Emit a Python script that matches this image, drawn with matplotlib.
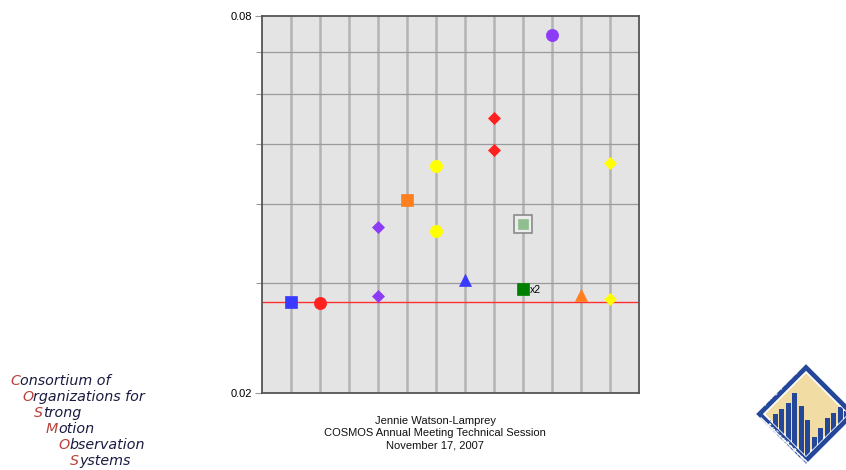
import matplotlib
matplotlib.use("Agg")
import matplotlib.pyplot as plt
from matplotlib.patches import Polygon, Rectangle
import numpy as np

# ---------------- data ----------------
positions = [1, 2, 4, 4, 5, 6, 6, 7, 8, 8, 9, 9, 10, 11, 12, 12]
values = [0.0280, 0.0279, 0.0368, 0.0286, 0.0406, 0.0461, 0.0363, 0.0303,
          0.0550, 0.0489, 0.0373, 0.0293, 0.0745, 0.0287, 0.0465, 0.0283]
markers = ['s', 'o', 'D', 'D', 's', 'o', 'o', '^', 'D', 'D', 's', 's', 'o', '^', 'D', 'D']
colors = ['#3a3aff', '#ff2020', '#8c3cf5', '#8c3cf5', '#ff7f1e', '#ffff00', '#ffff00',
          '#3a3aff', '#ff2020', '#ff2020', '#8fbf8f', '#008000', '#8c3cf5', '#ff7f1e',
          '#ffff00', '#ffff00']
boxed_index = 10          # the light green point drawn with a frame
note_index = 11           # the point labelled "x2"
note_text = "x2"
reference_value = 0.0280
y_min, y_max = 0.02, 0.08
ytick_major = [0.02, 0.08]
ytick_major_labels = ["0.02", "0.08"]
ytick_minor = [0.03, 0.04, 0.05, 0.06, 0.07]
x_grid = list(range(1, 13))
x_min, x_max = 0, 13

credit_lines = ["Jennie Watson-Lamprey",
                "COSMOS Annual Meeting Technical Session",
                "November 17, 2007"]
cosmos_words = ["Consortium of", "Organizations for", "Strong", "Motion",
                "Observation", "Systems"]

# ---------------- figure ----------------
W, H = 846, 470
fig = plt.figure(figsize=(W / 100, H / 100), dpi=100)
fig.patch.set_facecolor('white')

ax = fig.add_axes([262 / W, 1 - 393.3 / H, 377 / W, 377.6 / H])
ax.set_facecolor('#e4e4e4')
ax.set_yscale('log')
ax.set_ylim(y_min, y_max)
ax.set_xlim(x_min, x_max)

for xv in x_grid:
    ax.axvline(xv, color='#b3b3b3', lw=1.8, zorder=1)
for yv in ytick_minor:
    ax.axhline(yv, color='#9a9a9a', lw=0.9, zorder=1)

ax.axhline(reference_value, color='#ff3030', lw=1.0, zorder=2)

sizes = {'s': 8.5, 'o': 8.8, 'D': 6.5, '^': 8.5}
for i, (xp, v, m, c) in enumerate(zip(positions, values, markers, colors)):
    ms = sizes[m]
    if i == boxed_index:
        ax.plot(xp, v, marker='s', ms=13, mfc='#ececec', mec='#8a8a8a', mew=1.2,
                ls='none', zorder=3)
        ms = 7.5
    ax.plot(xp, v, marker=m, ms=ms, mfc=c, mec=c, mew=0.5, ls='none', zorder=4)

ax.annotate(note_text, (positions[note_index], values[note_index]),
            xytext=(5, -3), textcoords='offset points', fontsize=7.5,
            family='Liberation Sans', va='baseline', ha='left', zorder=5)

ax.set_xticks([])
ax.set_yticks(ytick_major)
ax.set_yticklabels(ytick_major_labels, family='Liberation Sans', fontsize=8)
ax.set_yticks(ytick_minor, minor=True)
ax.set_yticklabels([], minor=True)
ax.tick_params(axis='y', which='major', length=5, width=0.8, color='#999999', pad=2)
ax.tick_params(axis='y', which='minor', length=4, width=0.8, color='#999999')
for s in ax.spines.values():
    s.set_color('#555555')
    s.set_linewidth(1.3)

# credit text
for k, line in enumerate(credit_lines):
    fig.text(435 / W, 1 - (421 + 12.5 * k) / H, line, ha='center', va='center',
             fontsize=8, family='Liberation Sans', color='#111111')

# COSMOS logo text
fig.canvas.draw()
r = fig.canvas.get_renderer()
for k, word in enumerate(cosmos_words):
    x0 = (10 + 12 * k) / W
    y0 = 1 - (381 + 16 * k) / H
    t = fig.text(x0, y0, word[0], ha='left', va='center', fontsize=10.3,
                 style='italic', family='DejaVu Sans', color='#b8403a')
    bb = t.get_window_extent(renderer=r)
    fig.text(bb.x1 / W, y0, word[1:], ha='left', va='center', fontsize=10.3,
             style='italic', family='DejaVu Sans', color='#1a1a40')

# PEER logo (approximate)
lax = fig.add_axes([0, 0, 1, 1], facecolor='none')
lax.set_xlim(0, W)
lax.set_ylim(H, 0)
lax.axis('off')
cx, cy, R = 806, 414, 51
outer = [(cx, cy - R), (cx - R, cy), (cx, cy + R), (cx + R, cy)]
lax.add_patch(Polygon(outer, closed=True, fc='#24479a', ec='white', lw=1.2))
ri = R - 9
inner = [(cx, cy - ri), (cx - ri, cy), (cx, cy + ri), (cx + ri, cy)]
inner_poly = Polygon(inner, closed=True, fc='#f1dca4', ec='white', lw=1.2)
lax.add_patch(inner_poly)
bar_x = np.arange(766, 850, 6.5)
bar_top = [420, 414, 409, 403, 393, 406, 420, 437, 428, 418, 413, 407, 411]
clip = Polygon(inner, closed=True, transform=lax.transData)
for bx, bt in zip(bar_x, bar_top):
    rect = Rectangle((bx, bt), 5.0, 80, fc='#24479a', ec='none')
    lax.add_patch(rect)
    rect.set_clip_path(clip)
# white separator along lower-left edge band
lax.plot([cx - R + 6, cx + 2], [cy + 4, cy + R - 2 + 0], color='white', lw=1.0)
# edge letters
for k, ch in enumerate("PACIFIC"):
    f = 0.12 + k * 0.115
    px = cx - R + 5 + f * (R - 6)
    py = cy - 5 - f * (R - 6)
    lax.text(px, py, ch, color='white', fontsize=3.8, rotation=45,
             ha='center', va='center', family='DejaVu Sans', fontweight='bold')
for k, ch in enumerate("ENGINEERING"):
    f = 0.08 + k * 0.08
    px = cx - R + 9 + f * (R - 6)
    py = cy + 8 + f * (R - 6)
    lax.text(px, py, ch, color='white', fontsize=3.6, rotation=-45,
             ha='center', va='center', family='DejaVu Sans', fontweight='bold')

fig.savefig('out.png', dpi=100)
